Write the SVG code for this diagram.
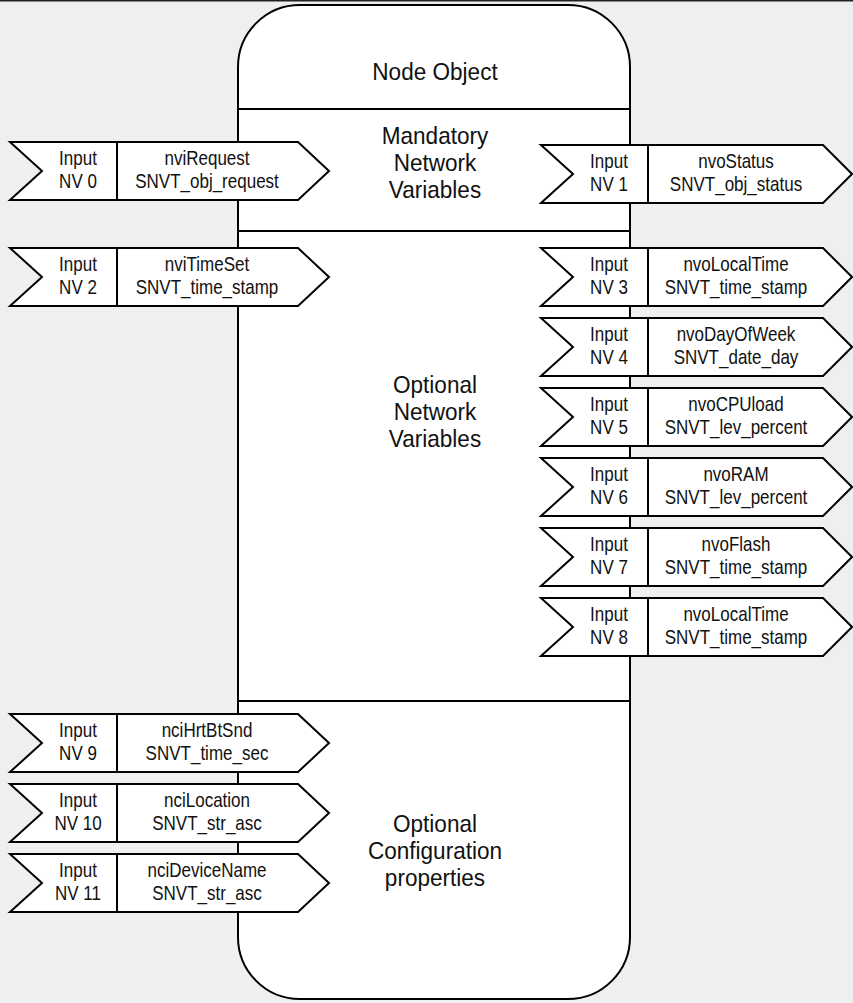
<svg xmlns="http://www.w3.org/2000/svg" width="853" height="1003" viewBox="0 0 853 1003">
  <style>
    .bg { fill: #efefef; }
    .frame { fill: #ffffff; stroke: #000000; stroke-width: 2; }
    .rule { stroke: #000000; stroke-width: 2; fill: none; }
    .tag { fill: #ffffff; stroke: #000000; stroke-width: 2; stroke-linejoin: miter; }
    text { font-family: "Liberation Sans", Arial, Helvetica, sans-serif; fill: #111111; text-anchor: middle; }
    .lbl { font-size: 21px; }
    .title { font-size: 24px; }
  </style>
  <defs>
    <!-- arrow-shaped variable tags, 58 high, origin at the left notch corner / vertical centre -->
    <path id="tagIn" class="tag" d="M0,-29 H288 L319,0 L288,29 H0 L32,0 Z"/>
    <path id="tagOut" class="tag" d="M0,-29 H282 L311,0 L282,29 H0 L32,0 Z"/>
  </defs>

  <rect class="bg" x="0" y="0" width="853" height="1003"/>
  <rect x="0" y="0" width="853" height="1.5" fill="#222222"/>

  <!-- central node object -->
  <g id="node-object">
    <rect class="frame" x="238" y="5" width="392" height="994" rx="62" ry="62"/>
    <line class="rule" x1="238" y1="109" x2="630" y2="109"/>
    <line class="rule" x1="238" y1="231" x2="630" y2="231"/>
    <line class="rule" x1="238" y1="701" x2="630" y2="701"/>
    <text class="title" transform="translate(435 80) scale(.94 1)">Node Object</text>
    <text class="title" transform="translate(435 144) scale(.94 1)">Mandatory</text>
    <text class="title" transform="translate(435 171) scale(.94 1)">Network</text>
    <text class="title" transform="translate(435 198) scale(.94 1)">Variables</text>
    <text class="title" transform="translate(435 393) scale(.94 1)">Optional</text>
    <text class="title" transform="translate(435 420) scale(.94 1)">Network</text>
    <text class="title" transform="translate(435 447) scale(.94 1)">Variables</text>
    <text class="title" transform="translate(435 832) scale(.94 1)">Optional</text>
    <text class="title" transform="translate(435 859) scale(.94 1)">Configuration</text>
    <text class="title" transform="translate(435 886) scale(.94 1)">properties</text>
  </g>

  <!-- connectors: the variable tags attach directly to the node outline -->
  <g id="connectors"/>

  <!-- variables on the left side -->
  <g id="nv0" transform="translate(10 171)">
    <use href="#tagIn"/>
    <line class="rule" x1="107" y1="-29" x2="107" y2="29"/>
    <text class="lbl" transform="translate(68 -6) scale(.81 1)">Input</text>
    <text class="lbl" transform="translate(68 17) scale(.81 1)">NV 0</text>
    <text class="lbl" transform="translate(197 -6) scale(.81 1)">nviRequest</text>
    <text class="lbl" transform="translate(197 17) scale(.81 1)">SNVT_obj_request</text>
  </g>
  <g id="nv2" transform="translate(10 277)">
    <use href="#tagIn"/>
    <line class="rule" x1="107" y1="-29" x2="107" y2="29"/>
    <text class="lbl" transform="translate(68 -6) scale(.81 1)">Input</text>
    <text class="lbl" transform="translate(68 17) scale(.81 1)">NV 2</text>
    <text class="lbl" transform="translate(197 -6) scale(.81 1)">nviTimeSet</text>
    <text class="lbl" transform="translate(197 17) scale(.81 1)">SNVT_time_stamp</text>
  </g>
  <g id="nv9" transform="translate(10 743)">
    <use href="#tagIn"/>
    <line class="rule" x1="107" y1="-29" x2="107" y2="29"/>
    <text class="lbl" transform="translate(68 -6) scale(.81 1)">Input</text>
    <text class="lbl" transform="translate(68 17) scale(.81 1)">NV 9</text>
    <text class="lbl" transform="translate(197 -6) scale(.81 1)">nciHrtBtSnd</text>
    <text class="lbl" transform="translate(197 17) scale(.81 1)">SNVT_time_sec</text>
  </g>
  <g id="nv10" transform="translate(10 813)">
    <use href="#tagIn"/>
    <line class="rule" x1="107" y1="-29" x2="107" y2="29"/>
    <text class="lbl" transform="translate(68 -6) scale(.81 1)">Input</text>
    <text class="lbl" transform="translate(68 17) scale(.81 1)">NV 10</text>
    <text class="lbl" transform="translate(197 -6) scale(.81 1)">nciLocation</text>
    <text class="lbl" transform="translate(197 17) scale(.81 1)">SNVT_str_asc</text>
  </g>
  <g id="nv11" transform="translate(10 883)">
    <use href="#tagIn"/>
    <line class="rule" x1="107" y1="-29" x2="107" y2="29"/>
    <text class="lbl" transform="translate(68 -6) scale(.81 1)">Input</text>
    <text class="lbl" transform="translate(68 17) scale(.81 1)">NV 11</text>
    <text class="lbl" transform="translate(197 -6) scale(.81 1)">nciDeviceName</text>
    <text class="lbl" transform="translate(197 17) scale(.81 1)">SNVT_str_asc</text>
  </g>

  <!-- variables on the right side -->
  <g id="nv1" transform="translate(541 174)">
    <use href="#tagOut"/>
    <line class="rule" x1="107" y1="-29" x2="107" y2="29"/>
    <text class="lbl" transform="translate(68 -6) scale(.81 1)">Input</text>
    <text class="lbl" transform="translate(68 17) scale(.81 1)">NV 1</text>
    <text class="lbl" transform="translate(195 -6) scale(.81 1)">nvoStatus</text>
    <text class="lbl" transform="translate(195 17) scale(.81 1)">SNVT_obj_status</text>
  </g>
  <g id="nv3" transform="translate(541 277)">
    <use href="#tagOut"/>
    <line class="rule" x1="107" y1="-29" x2="107" y2="29"/>
    <text class="lbl" transform="translate(68 -6) scale(.81 1)">Input</text>
    <text class="lbl" transform="translate(68 17) scale(.81 1)">NV 3</text>
    <text class="lbl" transform="translate(195 -6) scale(.81 1)">nvoLocalTime</text>
    <text class="lbl" transform="translate(195 17) scale(.81 1)">SNVT_time_stamp</text>
  </g>
  <g id="nv4" transform="translate(541 347)">
    <use href="#tagOut"/>
    <line class="rule" x1="107" y1="-29" x2="107" y2="29"/>
    <text class="lbl" transform="translate(68 -6) scale(.81 1)">Input</text>
    <text class="lbl" transform="translate(68 17) scale(.81 1)">NV 4</text>
    <text class="lbl" transform="translate(195 -6) scale(.81 1)">nvoDayOfWeek</text>
    <text class="lbl" transform="translate(195 17) scale(.81 1)">SNVT_date_day</text>
  </g>
  <g id="nv5" transform="translate(541 417)">
    <use href="#tagOut"/>
    <line class="rule" x1="107" y1="-29" x2="107" y2="29"/>
    <text class="lbl" transform="translate(68 -6) scale(.81 1)">Input</text>
    <text class="lbl" transform="translate(68 17) scale(.81 1)">NV 5</text>
    <text class="lbl" transform="translate(195 -6) scale(.81 1)">nvoCPUload</text>
    <text class="lbl" transform="translate(195 17) scale(.81 1)">SNVT_lev_percent</text>
  </g>
  <g id="nv6" transform="translate(541 487)">
    <use href="#tagOut"/>
    <line class="rule" x1="107" y1="-29" x2="107" y2="29"/>
    <text class="lbl" transform="translate(68 -6) scale(.81 1)">Input</text>
    <text class="lbl" transform="translate(68 17) scale(.81 1)">NV 6</text>
    <text class="lbl" transform="translate(195 -6) scale(.81 1)">nvoRAM</text>
    <text class="lbl" transform="translate(195 17) scale(.81 1)">SNVT_lev_percent</text>
  </g>
  <g id="nv7" transform="translate(541 557)">
    <use href="#tagOut"/>
    <line class="rule" x1="107" y1="-29" x2="107" y2="29"/>
    <text class="lbl" transform="translate(68 -6) scale(.81 1)">Input</text>
    <text class="lbl" transform="translate(68 17) scale(.81 1)">NV 7</text>
    <text class="lbl" transform="translate(195 -6) scale(.81 1)">nvoFlash</text>
    <text class="lbl" transform="translate(195 17) scale(.81 1)">SNVT_time_stamp</text>
  </g>
  <g id="nv8" transform="translate(541 627)">
    <use href="#tagOut"/>
    <line class="rule" x1="107" y1="-29" x2="107" y2="29"/>
    <text class="lbl" transform="translate(68 -6) scale(.81 1)">Input</text>
    <text class="lbl" transform="translate(68 17) scale(.81 1)">NV 8</text>
    <text class="lbl" transform="translate(195 -6) scale(.81 1)">nvoLocalTime</text>
    <text class="lbl" transform="translate(195 17) scale(.81 1)">SNVT_time_stamp</text>
  </g>
</svg>
